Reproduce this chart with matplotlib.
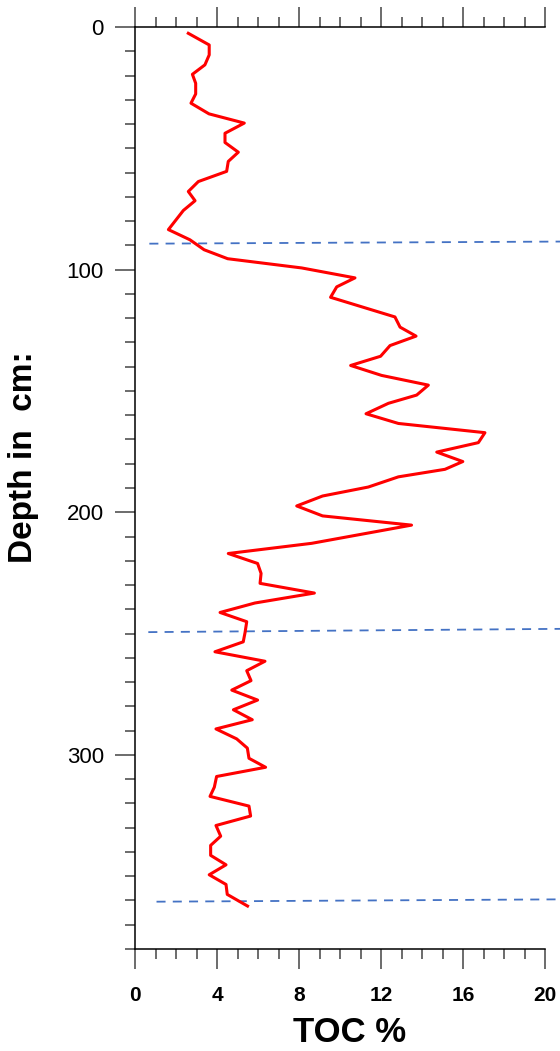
import matplotlib
matplotlib.use("Agg")
import matplotlib.pyplot as plt
from matplotlib.ticker import MultipleLocator

plt.rcParams["font.family"] = ["Liberation Sans", "DejaVu Sans"]

# TOC profile of the core
depth = [2.6, 7.4, 11.5, 15.6, 19.5, 23.2, 27.6, 31.4, 35.8, 39.6,
         43.8, 47.6, 51.6, 55.4, 59.5, 63.7, 67.8, 71.6, 75.6, 83.5,
         87.7, 91.8, 95.5, 99.3, 103.4, 107.1, 111.4, 119.5, 123.7, 127.4,
         131.3, 135.7, 139.5, 143.6, 147.6, 151.7, 155.1, 159.4, 163.4, 167.2,
         171.3, 175.2, 179.1, 182.3, 185.4, 189.6, 193.3, 197.4, 201.5, 205.3,
         212.8, 217.0, 221.1, 225.2, 229.3, 233.3, 237.4, 241.3, 245.1, 249.5,
         253.4, 257.5, 261.4, 265.3, 269.4, 273.3, 277.4, 281.4, 285.5, 289.3,
         293.4, 297.2, 301.4, 305.1, 308.9, 313.3, 317.1, 321.1, 325.2, 329.1,
         333.5, 337.3, 341.4, 345.3, 349.4, 353.4, 357.5, 362.3]
toc = [2.60, 3.62, 3.62, 3.41, 2.80, 2.96, 2.96, 2.73, 3.61, 5.33,
       4.39, 4.39, 5.04, 4.55, 4.47, 3.09, 2.60, 2.93, 2.36, 1.63,
       2.68, 3.37, 4.52, 8.13, 10.73, 9.84, 9.54, 12.68, 12.93, 13.71,
       12.44, 11.98, 10.52, 12.03, 14.31, 13.74, 12.36, 11.27, 12.85, 17.07,
       16.75, 14.72, 15.99, 15.12, 12.85, 11.38, 9.15, 7.89, 9.15, 13.49,
       8.62, 4.55, 5.98, 6.15, 6.10, 8.75, 5.85, 4.15, 5.45, 5.37,
       5.28, 3.90, 6.34, 5.45, 5.66, 4.72, 5.98, 4.80, 5.72, 3.95,
       4.96, 5.48, 5.56, 6.37, 3.98, 3.87, 3.66, 5.56, 5.64, 3.95,
       4.18, 3.69, 3.69, 4.44, 3.62, 4.44, 4.50, 5.49]

# unit boundaries (depth at left end, depth at right end)
bound_start = [0.7, 0.65, 1.05]
bound_end = 21.5
bound_depth = [(89.3, 88.4), (249.4, 248.0), (360.5, 359.5)]

fig = plt.figure(figsize=(5.6, 10.51), dpi=100)
ax = fig.add_axes([135 / 560, 1 - 949 / 1051, 410 / 560, 922 / 1051])

ax.plot(toc, depth, color="red", linewidth=2.2, zorder=3)
for x0, (d0, d1) in zip(bound_start, bound_depth):
    ax.plot([x0, bound_end], [d0, d1], color="#4472c4", linewidth=1.3,
            dashes=(5, 4), clip_on=False, zorder=2)

ax.set_xlim(0, 20)
ax.set_ylim(380, 0)

ax.spines["right"].set_visible(False)
for s in ["left", "top", "bottom"]:
    ax.spines[s].set_linewidth(1.1)

ax.xaxis.set_major_locator(MultipleLocator(4))
ax.xaxis.set_minor_locator(MultipleLocator(1))
ax.yaxis.set_major_locator(MultipleLocator(100))
ax.yaxis.set_minor_locator(MultipleLocator(10))

ax.tick_params(axis="x", which="both", top=True, bottom=True, direction="out",
               color="#444444", width=1.1)
ax.tick_params(axis="x", which="major", length=14.5, pad=12, labelsize=15)
ax.tick_params(axis="x", which="minor", length=7.5)
ax.tick_params(axis="y", which="both", left=True, right=False, direction="out",
               color="#444444", width=1.1)
ax.tick_params(axis="y", which="major", length=14.5, pad=8, labelsize=16)
ax.tick_params(axis="y", which="minor", length=7.5)
for lab in ax.get_xticklabels():
    lab.set_fontweight("bold")

fig.text(350 / 560, 1 - 1033 / 1051, "TOC %", fontsize=25, fontweight="bold",
         ha="center", va="center")
fig.text(24 / 560, 1 - 457 / 1051, "Depth in  cm:", fontsize=24,
         fontweight="bold", rotation=90, ha="center", va="center")

plt.savefig("out.png", dpi=100)
